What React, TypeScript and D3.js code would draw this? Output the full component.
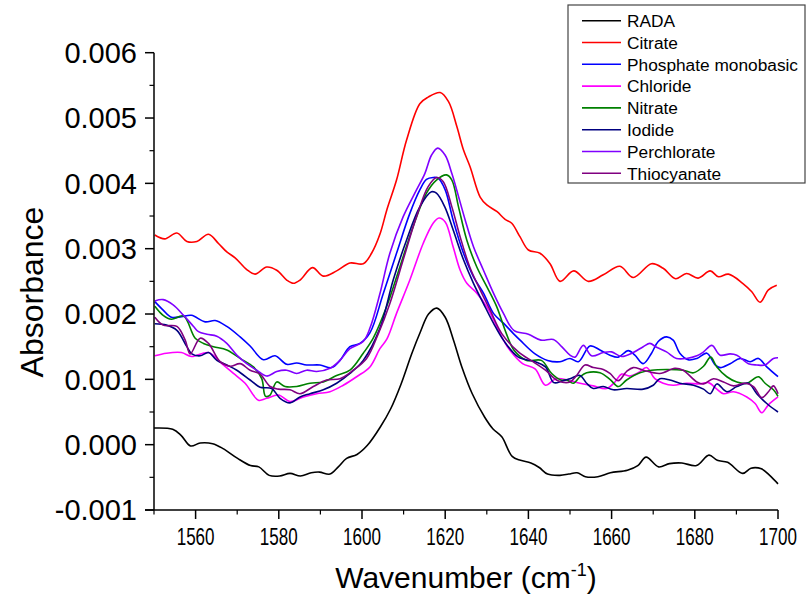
import React from 'react';
import * as d3 from 'd3';

const xMajorTicks = [1560, 1580, 1600, 1620, 1640, 1660, 1680, 1700];
const xMinorTicks = [1550, 1570, 1590, 1610, 1630, 1650, 1670, 1690];
const yMajorTicks = [-0.001, 0, 0.001, 0.002, 0.003, 0.004, 0.005, 0.006];
const yMinorTicks = [-0.0005, 0.0005, 0.0015, 0.0025, 0.0035, 0.0045, 0.0055];

const seriesNames = ['RADA', 'Citrate', 'Phosphate monobasic', 'Chloride', 'Nitrate', 'Iodide', 'Perchlorate', 'Thiocyanate'];
const seriesColors = ['#000000', '#ff0000', '#0000ff', '#ff00ff', '#008000', '#000080', '#8000ff', '#800080'];

type P = [number, number];

const rada: P[] = [[1550,0.000255],[1554.5,0.000235],[1556.5,0.000143],[1558.8,-0.00002],[1561.1,0.000026],[1564.1,0.000015],[1566.6,-0.00006],[1570.1,-0.00021],[1573.2,-0.00032],[1575.2,-0.00034],[1577.7,-0.00047],[1580.2,-0.00048],[1582.7,-0.00044],[1585.2,-0.00048],[1587.8,-0.00043],[1589.8,-0.00042],[1592.3,-0.00045],[1594.3,-0.00034],[1596.3,-0.00021],[1598.8,-0.00015],[1601.3,-0.00001],[1604.4,0.00027],[1606.9,0.00055],[1609.4,0.00093],[1612,0.0014],[1614,0.00172],[1616,0.002],[1618,0.00209],[1620,0.00195],[1622,0.0016],[1624,0.00119],[1626.5,0.00078],[1629.5,0.00042],[1631.5,0.00024],[1633.6,0.00012],[1636.1,-0.00018],[1638.1,-0.00024],[1640.6,-0.00028],[1642.6,-0.00035],[1644.6,-0.00045],[1647.6,-0.00047],[1649.7,-0.00045],[1651.7,-0.00043],[1653.7,-0.00049],[1656.7,-0.00049],[1659.7,-0.00043],[1663.8,-0.00039],[1666.3,-0.00032],[1668.3,-0.00019],[1671.3,-0.00034],[1673.9,-0.00029],[1676.9,-0.00028],[1680.4,-0.00032],[1683.4,-0.00016],[1685.4,-0.00024],[1687.9,-0.00027],[1691.5,-0.00044],[1693.5,-0.00036],[1696,-0.00037],[1698,-0.00047],[1700,-0.0006]];

const citrate: P[] = [[1550.2,0.00321],[1552.6,0.00315],[1555.5,0.00324],[1557.9,0.00311],[1560.3,0.00311],[1563.1,0.00322],[1565.5,0.00308],[1567.5,0.00295],[1569.5,0.00286],[1572.3,0.00268],[1574.3,0.00261],[1577.1,0.00272],[1579.5,0.00267],[1581.9,0.00252],[1583.5,0.00247],[1585.1,0.00252],[1588.1,0.00271],[1590.7,0.00258],[1593.9,0.00266],[1597.1,0.00278],[1600.3,0.00277],[1602.3,0.00293],[1604.3,0.00322],[1606,0.0036],[1608.3,0.00405],[1610.7,0.00466],[1613.9,0.00522],[1615.9,0.00532],[1618.8,0.00539],[1620.8,0.00525],[1622.8,0.00487],[1624.4,0.00451],[1626,0.00425],[1628.4,0.00379],[1630,0.00367],[1632.4,0.00357],[1634.4,0.00345],[1636,0.00339],[1638,0.00318],[1640,0.00298],[1642.8,0.00293],[1645.2,0.00277],[1647.6,0.0025],[1650.9,0.00266],[1654.4,0.0025],[1658,0.0026],[1662,0.00273],[1665.2,0.00256],[1669.6,0.00277],[1672.4,0.0027],[1675.4,0.00254],[1678,0.00262],[1680.8,0.00255],[1683.7,0.00266],[1685.7,0.00257],[1688.1,0.00261],[1691.5,0.00247],[1693.7,0.00234],[1695.7,0.00218],[1697.7,0.00237],[1699.7,0.00244]];

const phosphate: P[] = [[1550.2,0.00219],[1552.2,0.00206],[1554.2,0.00195],[1556.6,0.00196],[1559,0.00198],[1562.3,0.00188],[1564.7,0.0019],[1567.5,0.00181],[1570.7,0.00165],[1573.1,0.00151],[1576.3,0.0013],[1579.1,0.00136],[1581.9,0.00123],[1584.3,0.00125],[1586.7,0.00122],[1589.9,0.00122],[1592.7,0.00118],[1594.7,0.00129],[1597.1,0.0015],[1599.5,0.00155],[1601.9,0.00171],[1605.1,0.00231],[1608.3,0.00293],[1611.5,0.00354],[1613.9,0.0039],[1615.5,0.00406],[1617.1,0.00409],[1618.3,0.00408],[1620,0.0039],[1621.9,0.00344],[1624.4,0.00293],[1626.8,0.00257],[1629.2,0.00232],[1631.6,0.00201],[1634,0.00186],[1636.4,0.0017],[1638,0.0016],[1641.6,0.00139],[1644.6,0.00129],[1647.6,0.00127],[1650,0.00132],[1652,0.00127],[1654.8,0.00151],[1657.2,0.00145],[1659.6,0.00137],[1661.6,0.00134],[1664,0.00144],[1665.6,0.00137],[1667.6,0.00124],[1669.6,0.0014],[1671.2,0.00158],[1673.2,0.00165],[1674.8,0.0016],[1676.4,0.0014],[1678.4,0.0013],[1680.5,0.00132],[1682.9,0.0014],[1684.9,0.00122],[1686.1,0.00118],[1688.5,0.00124],[1690.9,0.00132],[1693.3,0.00127],[1695.3,0.00132],[1697.3,0.00119],[1700,0.00104]];

const chloride: P[] = [[1550.2,0.00136],[1553,0.0014],[1556.6,0.00141],[1559,0.00135],[1563.1,0.00141],[1566.3,0.00124],[1569.1,0.00109],[1571.9,0.00094],[1575.1,0.00068],[1577.1,0.00071],[1579.9,0.00076],[1582.7,0.00066],[1585.9,0.00073],[1589.1,0.00078],[1592.3,0.00081],[1595.5,0.00091],[1598.7,0.00104],[1601.9,0.00119],[1604.3,0.00147],[1606,0.00162],[1608.3,0.00201],[1611.5,0.00252],[1614.7,0.00308],[1617.1,0.00339],[1618.5,0.00347],[1620,0.00341],[1621.9,0.00303],[1623.6,0.00267],[1625.2,0.00247],[1627.6,0.00232],[1630,0.00211],[1632.4,0.00181],[1634,0.0016],[1635.6,0.00144],[1638.6,0.00124],[1641.6,0.00116],[1644.1,0.00091],[1646.6,0.00101],[1649.5,0.00099],[1652.4,0.00094],[1655.6,0.0009],[1658.8,0.00086],[1660.8,0.00096],[1662.4,0.00108],[1664.4,0.00105],[1666.4,0.0011],[1668.4,0.00118],[1670.4,0.00101],[1672.4,0.00094],[1674.8,0.00091],[1678,0.00094],[1681.3,0.00093],[1683.3,0.00095],[1685.3,0.00085],[1686.9,0.00078],[1689.3,0.00081],[1692.5,0.00073],[1694.5,0.00063],[1696.1,0.00049],[1697.7,0.00061],[1700,0.00073]];

const nitrate: P[] = [[1550.2,0.00212],[1552.2,0.00198],[1554.2,0.00192],[1557.1,0.00197],[1559.9,0.00163],[1561.9,0.00155],[1564.3,0.0015],[1567.5,0.00145],[1570.7,0.00132],[1573.9,0.00119],[1575.9,0.00101],[1576.8,0.00074],[1577.9,0.00076],[1579.5,0.00096],[1581.5,0.00089],[1584.3,0.00089],[1587.5,0.00094],[1590.7,0.00096],[1593.9,0.00106],[1597.1,0.00114],[1600.3,0.0014],[1602.7,0.00163],[1605.9,0.00211],[1609.1,0.00272],[1612.3,0.00334],[1615.5,0.00385],[1617.9,0.00405],[1620.3,0.00413],[1621.6,0.00405],[1623.2,0.00364],[1625.2,0.00313],[1627.6,0.00272],[1630,0.00242],[1632.4,0.00211],[1634.7,0.0017],[1636.6,0.00144],[1639.6,0.00129],[1643.1,0.00129],[1645.6,0.00109],[1647.8,0.00099],[1649.2,0.00099],[1650.8,0.00094],[1652.4,0.00104],[1654,0.0011],[1657.2,0.0011],[1659.6,0.001],[1661.6,0.00089],[1663.6,0.00099],[1666.8,0.0011],[1669.6,0.00114],[1673.2,0.00115],[1677.2,0.00114],[1679.7,0.0011],[1682.1,0.0012],[1683.8,0.00134],[1685.3,0.00119],[1687.7,0.00104],[1690.1,0.00096],[1692.5,0.00094],[1695.3,0.00104],[1696.9,0.00094],[1698.9,0.00084],[1700,0.00074]];

const iodide: P[] = [[1550.2,0.00185],[1553,0.00183],[1555.5,0.00175],[1557.9,0.0015],[1559.1,0.00139],[1561.1,0.00136],[1563.1,0.00141],[1565.1,0.00129],[1567.5,0.00122],[1569.9,0.00114],[1573.1,0.00099],[1575.5,0.00088],[1578.3,0.00086],[1580.3,0.00071],[1582.7,0.00064],[1585.1,0.00073],[1587.5,0.00078],[1590.7,0.00084],[1593.9,0.00094],[1597.1,0.00109],[1600.3,0.00129],[1604.3,0.00178],[1607.5,0.00252],[1610.7,0.00313],[1613.9,0.00364],[1616.7,0.00387],[1617.9,0.00385],[1619.9,0.00364],[1621.9,0.00329],[1624.4,0.00283],[1626.8,0.00247],[1629.2,0.00216],[1631.6,0.00186],[1634,0.0016],[1637.6,0.00134],[1641.6,0.00127],[1644.1,0.00119],[1646.1,0.00095],[1648,0.00097],[1650,0.00101],[1652.4,0.00106],[1654,0.00094],[1655.6,0.00086],[1658,0.00089],[1660.4,0.00084],[1663.6,0.00086],[1667.6,0.00085],[1670,0.00091],[1671.6,0.00101],[1674,0.00099],[1676.4,0.00094],[1679.7,0.00091],[1682.1,0.00085],[1683.7,0.00078],[1685.3,0.00093],[1687.7,0.00081],[1690.1,0.00089],[1692.9,0.00094],[1694.9,0.00078],[1697.3,0.00063],[1700,0.0005]];

const perchlorate: P[] = [[1550.2,0.0022],[1552.2,0.00222],[1554.6,0.00214],[1557.1,0.00198],[1559.5,0.00181],[1560.7,0.00173],[1562.7,0.00169],[1565.1,0.00166],[1567.5,0.00155],[1569.9,0.00137],[1572.3,0.00124],[1574.7,0.00114],[1577.1,0.00105],[1579.5,0.00112],[1581.9,0.00114],[1584.3,0.00109],[1586.7,0.00114],[1589.1,0.00112],[1592.3,0.00117],[1594.7,0.00129],[1597.1,0.00147],[1600.3,0.00158],[1602,0.0018],[1604.3,0.00231],[1606.7,0.00293],[1609.9,0.00349],[1613.1,0.0039],[1615.1,0.00415],[1616.7,0.00443],[1618.2,0.00454],[1620,0.00443],[1621.6,0.00415],[1623.2,0.0038],[1624.8,0.00344],[1626.8,0.00303],[1629.2,0.00267],[1631.6,0.00232],[1634,0.00201],[1636.5,0.00175],[1640,0.00169],[1643,0.0016],[1646,0.00161],[1648,0.0015],[1650,0.00137],[1651.2,0.00134],[1653.2,0.00152],[1655.2,0.00136],[1658,0.00141],[1660,0.00142],[1662.4,0.00135],[1665.2,0.00141],[1667.6,0.0015],[1669.2,0.00155],[1670.8,0.00149],[1673.2,0.00142],[1675.6,0.00132],[1678,0.00132],[1680.5,0.00136],[1682.1,0.00142],[1684.1,0.00152],[1686.1,0.00137],[1688.5,0.00139],[1690.1,0.00137],[1692.9,0.00124],[1694.9,0.00122],[1696.9,0.00122],[1698.9,0.00132],[1700,0.00133]];

const thiocyanate: P[] = [[1550.2,0.00195],[1552.2,0.00183],[1555.5,0.00181],[1557.5,0.0016],[1558.7,0.00139],[1561.1,0.00163],[1563.1,0.00155],[1565.9,0.00127],[1568.3,0.0012],[1570.7,0.00124],[1573.1,0.00114],[1575.5,0.00108],[1577.9,0.00089],[1579.9,0.00085],[1582.7,0.00084],[1585.1,0.00078],[1588.3,0.00089],[1591.5,0.00099],[1594.7,0.00101],[1597.9,0.00114],[1601.1,0.00132],[1603.8,0.00168],[1606.7,0.00216],[1609.9,0.00283],[1613.1,0.00349],[1615.9,0.00395],[1617.9,0.00409],[1619.5,0.00403],[1621.6,0.00364],[1623.6,0.00318],[1625.9,0.00272],[1628.4,0.00237],[1630.8,0.00206],[1633.6,0.0017],[1637.6,0.00142],[1641.1,0.00127],[1644.1,0.00114],[1647.1,0.00098],[1650,0.00096],[1651.6,0.00106],[1653.6,0.00122],[1655.6,0.00118],[1658,0.00115],[1659.6,0.00109],[1661.6,0.00098],[1663.6,0.00112],[1665.2,0.00118],[1667.6,0.00114],[1671.6,0.00109],[1675.2,0.00117],[1677.2,0.00114],[1680.5,0.00096],[1682.1,0.00093],[1684.5,0.00101],[1686.9,0.00096],[1689.3,0.0009],[1692.1,0.00094],[1694.1,0.00089],[1696.1,0.00072],[1697.7,0.00081],[1698.9,0.0009],[1700,0.00078]];

const seriesData: P[][] = [rada, citrate, phosphate, chloride, nitrate, iodide, perchlorate, thiocyanate];

const W = 806;
const H = 600;
const X0 = 154;
const X1 = 778;
const Y0 = 510;
const Y1 = 52.7;

export default function App() {
  const x = d3.scaleLinear().domain([1550, 1700]).range([X0, X1]);
  const y = d3.scaleLinear().domain([-0.001, 0.006]).range([Y0, Y1]);
  const line = d3
    .line<P>()
    .x((d) => x(d[0]))
    .y((d) => y(d[1]))
    .curve(d3.curveCatmullRom.alpha(0.5));

  const font = 'Arial, "Liberation Sans", sans-serif';
  const legendX = 568;
  const legendY = 5;
  const legendRow0 = 20.7;
  const legendStep = 21.8;

  return (
    <svg
      width={W}
      height={H}
      style={{ position: 'absolute', left: 0, top: 0, background: '#fff' }}
      fontFamily={font}
    >
      <rect x={0} y={0} width={W} height={H} fill="#fff" />
      {seriesData.map((d, i) => (
        <path key={seriesNames[i]} d={line(d) || ''} fill="none" stroke={seriesColors[i]} strokeWidth={1.6} />
      ))}
      {/* axes */}
      <line x1={X0} x2={X0} y1={Y0} y2={Y1} stroke="#000" strokeWidth={1.5} />
      <line x1={X0 - 9} x2={X1} y1={Y0} y2={Y0} stroke="#000" strokeWidth={1.5} />
      {xMajorTicks.map((t) => (
        <g key={'xt' + t}>
          <line x1={x(t)} x2={x(t)} y1={Y0} y2={Y0 + 9} stroke="#000" strokeWidth={1.5} />
          <text
            transform={`translate(${x(t)},545) scale(0.71,1)`}
            textAnchor="middle"
            fontSize={24}
            fill="#000"
          >
            {t}
          </text>
        </g>
      ))}
      {xMinorTicks.map((t) => (
        <line key={'xm' + t} x1={x(t)} x2={x(t)} y1={Y0} y2={Y0 + 4.5} stroke="#000" strokeWidth={1.2} />
      ))}
      {yMajorTicks.map((t) => (
        <g key={'yt' + t}>
          <line x1={X0 - 9} x2={X0} y1={y(t)} y2={y(t)} stroke="#000" strokeWidth={1.5} />
          <text x={137} y={y(t)} dy="0.36em" textAnchor="end" fontSize={29} fill="#000">
            {t.toFixed(3)}
          </text>
        </g>
      ))}
      {yMinorTicks.map((t) => (
        <line key={'ym' + t} x1={X0 - 4.5} x2={X0} y1={y(t)} y2={y(t)} stroke="#000" strokeWidth={1.2} />
      ))}
      {/* axis titles */}
      <text x={466} y={588} textAnchor="middle" fontSize={30} fill="#000">
        Wavenumber (cm
        <tspan fontSize={18} dy={-12}>-1</tspan>
        <tspan dy={12}>)</tspan>
      </text>
      <text transform="translate(43,292) rotate(-90)" textAnchor="middle" fontSize={32} fill="#000">
        Absorbance
      </text>
      {/* legend */}
      <rect x={legendX} y={legendY} width={237} height={178} fill="#fff" stroke="#444" strokeWidth={1.2} />
      {seriesNames.map((name, i) => (
        <g key={'lg' + name}>
          <line
            x1={582}
            x2={621}
            y1={legendRow0 + i * legendStep}
            y2={legendRow0 + i * legendStep}
            stroke={seriesColors[i]}
            strokeWidth={1.6}
          />
          <text x={627} y={legendRow0 + i * legendStep} dy="0.36em" fontSize={17.3} fill="#000">
            {name}
          </text>
        </g>
      ))}
    </svg>
  );
}
